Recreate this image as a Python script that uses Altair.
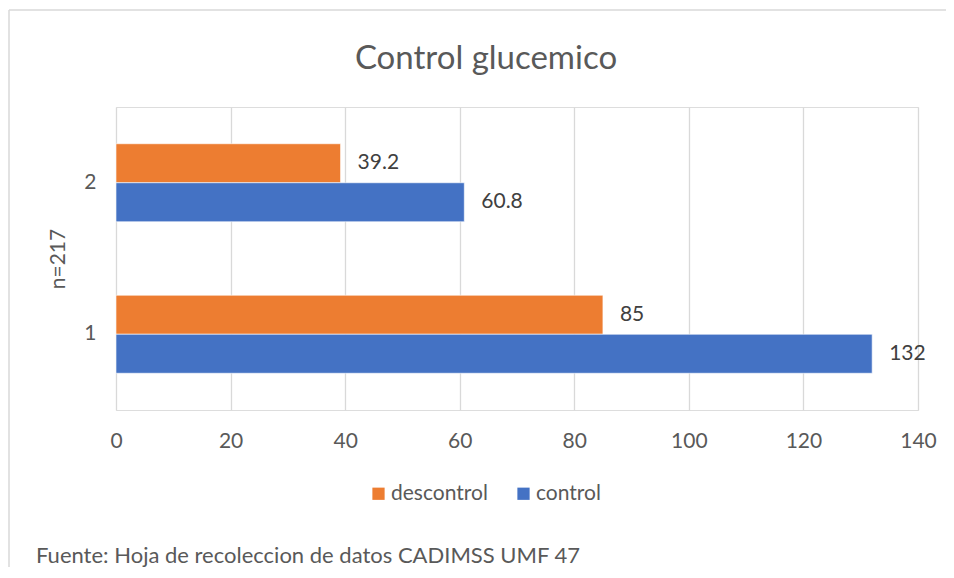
import altair as alt
import pandas as pd

grupos = ["1", "2"]
control = [132, 60.8]
descontrol = [85, 39.2]
series = ["descontrol", "control"]
colores = ["#ED7D31", "#4472C4"]
x_ticks = [0, 20, 40, 60, 80, 100, 120, 140]
titulo = "Control glucemico"
eje_y = "n=217"
fuente = "Fuente: Hoja de recoleccion de datos CADIMSS UMF 47"

rows = []
for g, c, d in zip(grupos, control, descontrol):
    rows.append({"grupo": g, "serie": "descontrol", "valor": d})
    rows.append({"grupo": g, "serie": "control", "valor": c})
df = pd.DataFrame(rows)

FONT = "Lato"
GRAY = "#595959"

y_enc = alt.Y("grupo:N", sort=["2", "1"],
              scale=alt.Scale(paddingInner=0.485, paddingOuter=0.2425),
              axis=alt.Axis(title=eje_y, titleFontSize=21, titleFont=FONT, titleColor=GRAY,
                            titleFontWeight="normal", titlePadding=15,
                            labelFontSize=21, labelFont=FONT, labelColor=GRAY,
                            labelPadding=20, ticks=False, domain=False, grid=False))
yoff = alt.YOffset("serie:N", sort=series, scale=alt.Scale(paddingInner=0, paddingOuter=0))
x_enc = alt.X("valor:Q", scale=alt.Scale(domain=[0, 140], nice=False),
              axis=alt.Axis(values=x_ticks, title=None, labelFontSize=21, labelFont=FONT,
                            labelColor=GRAY, labelPadding=20, ticks=False, domain=False,
                            labelFlush=False,
                            grid=True, gridColor="#d9d9d9", gridWidth=1.3))
color = alt.Color("serie:N", sort=series,
                  scale=alt.Scale(domain=series, range=colores),
                  legend=alt.Legend(title=None, orient="none", direction="horizontal",
                                    legendX=252, legendY=376, symbolType="square",
                                    symbolSize=150, symbolStrokeWidth=0,
                                    labelFontSize=21, labelFont=FONT, labelColor=GRAY,
                                    labelOffset=2, columnPadding=25))

bars = alt.Chart(df).mark_bar(stroke="white", strokeWidth=0.6).encode(
    y=y_enc, yOffset=yoff, x=x_enc, color=color)

labels = alt.Chart(df).mark_text(align="left", baseline="middle", dx=17,
                                 fontSize=21, font=FONT, color="#404040").encode(
    y=alt.Y("grupo:N", sort=["2", "1"]), yOffset=alt.YOffset("serie:N", sort=series),
    x="valor:Q", text=alt.Text("valor:Q"))

title_mark = alt.Chart(pd.DataFrame({"t": [titulo]})).mark_text(
    align="center", baseline="middle", fontSize=33, font=FONT, color=GRAY).encode(
    text="t:N", x=alt.value(370), y=alt.value(-48))

foot = alt.Chart(pd.DataFrame({"t": [fuente]})).mark_text(
    align="left", baseline="middle", fontSize=22, font=FONT, color=GRAY).encode(
    text="t:N", x=alt.value(-80), y=alt.value(449))

top_line = alt.Chart(pd.DataFrame({"a": [0]})).mark_rule(color="#d9d9d9", strokeWidth=1.5).encode(
    x=alt.value(-107), x2=alt.value(830), y=alt.value(-97))
left_line = alt.Chart(pd.DataFrame({"a": [0]})).mark_rule(color="#d9d9d9", strokeWidth=1.5).encode(
    x=alt.value(-107), y=alt.value(-97), y2=alt.value(460))

chart = alt.layer(top_line, left_line, bars, labels, title_mark, foot).properties(
    width=802, height=303,
    autosize=alt.AutoSizeParams(type="none"),
    padding={"left": 108, "top": 99, "right": 28, "bottom": 160},
).configure_view(stroke=None).configure(background="white")

chart.save("out.html", embed_options={"renderer": "svg", "actions": False})
